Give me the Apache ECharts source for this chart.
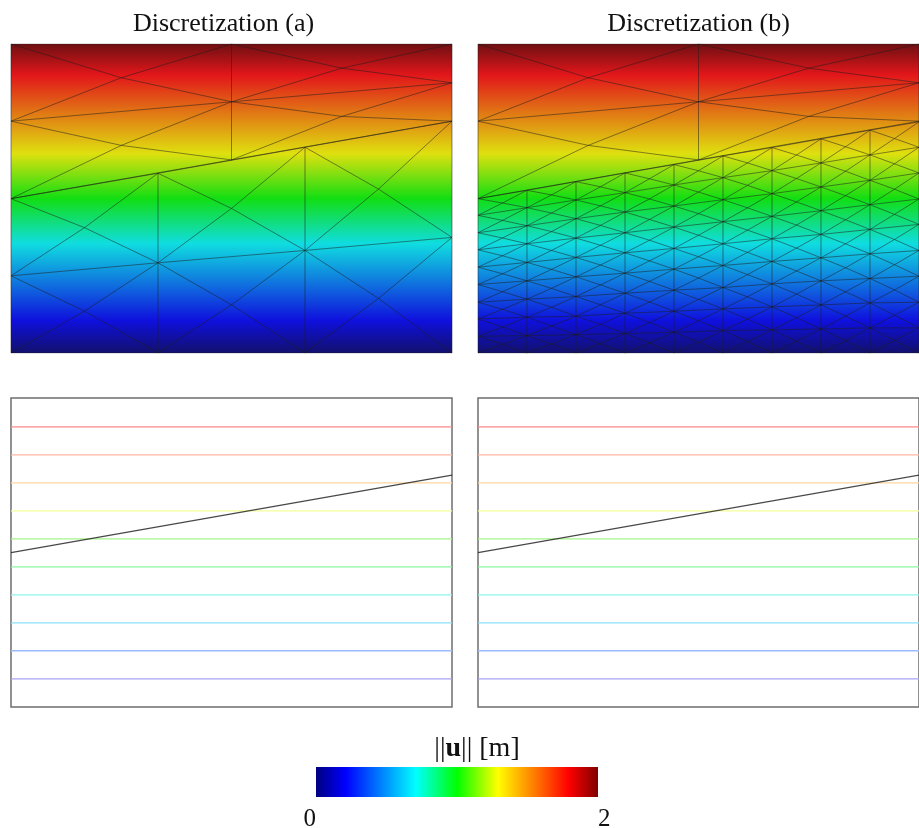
<!DOCTYPE html>
<html>
<head>
<meta charset="utf-8">
<style>html,body{margin:0;padding:0;background:#fff}#chart{width:919px;height:828px}</style>
<script src="https://cdn.jsdelivr.net/npm/echarts@6/dist/echarts.min.js"></script>
</head>
<body>
<div id="chart"></div>
<script>
// Domain: x from 0 to 12, height from 0 to 925 (displacement norm runs 0..2 over that height)
const domainWidth = 12;
const domainHeight = 925;
const normMax = 2;

const panelTitles = ['Discretization (a)', 'Discretization (b)'];
const colorbarTitleParts = ['||', 'u', '|| [m]'];
const colorbarTicks = [0, 2];

// Mesh nodes: x of each column, heights of the nodes of each column (top to bottom)
const upperX = [0, 6, 12];
const upperHeights = [
  [925, 694, 462],
  [925, 752, 578],
  [925, 809, 694]
];
const lowerXa = [0, 4, 8, 12];
const lowerHeightsA = [
  [462, 231, 0],
  [538, 270, 0],
  [616, 307, 0],
  [694, 346, 0]
];
const lowerXb = [0, 1.333, 2.667, 4, 5.333, 6.667, 8, 9.333, 10.667, 12];
const lowerHeightsB = [
  [462, 412, 360, 309, 257, 205, 152, 102, 50, 0],
  [487, 435, 381, 327, 271, 216, 161, 107, 52, 0],
  [513, 458, 402, 344, 286, 228, 169, 110, 55, 0],
  [539, 480, 422, 360, 300, 239, 179, 119, 58, 0],
  [564, 503, 440, 377, 313, 251, 188, 125, 62, 0],
  [590, 525, 459, 393, 327, 262, 196, 132, 67, 0],
  [615, 546, 477, 409, 342, 274, 207, 138, 69, 0],
  [641, 569, 497, 426, 355, 285, 216, 144, 72, 0],
  [667, 593, 517, 444, 370, 297, 223, 150, 75, 0],
  [692, 616, 539, 461, 385, 307, 230, 152, 75, 0]
];

// Interface between the two blocks: [x, height]
const interfaceLine = [[0, 462], [12, 694]];

// Contours of the norm and their colours
const contourLevels = [0.182, 0.364, 0.545, 0.726, 0.907, 1.088, 1.27, 1.451, 1.632, 1.813];
const contourColors = ['#a8a2f5', '#9cbaff', '#8ce0f8', '#8cf5ee', '#88f7a2', '#a6f588', '#f3ff98', '#ffd79c', '#ffb6a2', '#ff8888'];

// Colour map: position along the norm (0..1) and colour
const fieldStopPos = [0, 0.105, 0.354, 0.5, 0.645, 0.9, 1];
const fieldStopColors = ['#12106e', '#0f10dd', '#10dde0', '#12de12', '#dfe00f', '#e2161a', '#6e0f12'];
const barStopPos = [0, 0.105, 0.354, 0.5, 0.645, 0.895, 1];
const barStopColors = ['#00007f', '#0000ff', '#00ffff', '#00ff00', '#ffff00', '#ff0000', '#7f0000'];

const serifFont = '"Liberation Serif", "Times New Roman", serif';

function meshEdges(xs, heights) {
  const pts = [];
  const seg = (a, b) => { pts.push(a, b, [null, null]); };
  for (let c = 0; c < xs.length; c++) {
    for (let r = 0; r < heights[c].length; r++) {
      const p = [xs[c], heights[c][r]];
      if (r + 1 < heights[c].length) seg(p, [xs[c], heights[c][r + 1]]);
      if (c + 1 < xs.length) {
        const right = [xs[c + 1], heights[c + 1][r]];
        seg(p, right);
        if (r + 1 < heights[c].length) {
          const below = [xs[c], heights[c][r + 1]];
          const diag = [xs[c + 1], heights[c + 1][r + 1]];
          const mid = [(p[0] + right[0]) / 2, (p[1] + right[1] + below[1] + diag[1]) / 4];
          seg(p, mid); seg(right, mid); seg(below, mid); seg(diag, mid);
        }
      }
    }
  }
  return pts;
}

function gradient(pos, cols, horizontal) {
  const stops = pos.map((p, i) => ({
    offset: horizontal ? p : 1 - p,
    color: cols[i]
  }));
  stops.sort((a, b) => a.offset - b.offset);
  return horizontal
    ? new echarts.graphic.LinearGradient(0, 0, 1, 0, stops)
    : new echarts.graphic.LinearGradient(0, 0, 0, 1, stops);
}

function rectSeries(name, idx, rect, fill) {
  return {
    type: 'custom', name, xAxisIndex: idx, yAxisIndex: idx, silent: true, z: 1,
    data: [rect], clip: true,
    encode: { x: [0, 2], y: [1, 3] },
    renderItem(params, api) {
      const a = api.coord([api.value(0), api.value(3)]);
      const b = api.coord([api.value(2), api.value(1)]);
      return { type: 'rect', shape: { x: a[0], y: a[1], width: b[0] - a[0], height: b[1] - a[1] }, style: { fill } };
    }
  };
}

function lineSeries(name, idx, data, color, width, z) {
  return {
    type: 'line', name, xAxisIndex: idx, yAxisIndex: idx, data, z, silent: true,
    showSymbol: false, symbol: 'none', animation: false, connectNulls: false,
    lineStyle: { color, width }, clip: true
  };
}

const panelLefts = [11, 478];
const panelW = 441, panelH = 309;
const fieldTop = 44, contourTop = 398;

const grids = [], xAxes = [], yAxes = [], series = [];
function addGrid(left, top, width, height, xMax, yMax, border) {
  grids.push({ left, top, width, height, containLabel: false, outerBoundsMode: 'none', show: !!border, borderColor: border || 'transparent', borderWidth: 1.5, backgroundColor: 'transparent' });
  const i = grids.length - 1;
  xAxes.push({ type: 'value', gridIndex: i, min: 0, max: xMax, show: false });
  yAxes.push({ type: 'value', gridIndex: i, min: 0, max: yMax, show: false });
  return i;
}

const meshes = [
  [upperX, upperHeights, lowerXa, lowerHeightsA],
  [upperX, upperHeights, lowerXb, lowerHeightsB]
];
const meshColor = 'rgba(30,30,30,0.5)';
panelLefts.forEach((left, p) => {
  const fi = addGrid(left, fieldTop, panelW, panelH, domainWidth, domainHeight, null);
  series.push(rectSeries('field ' + p, fi, [0, 0, domainWidth, domainHeight], gradient(fieldStopPos, fieldStopColors, false)));
  const m = meshes[p];
  series.push(lineSeries('upper mesh ' + p, fi, meshEdges(m[0], m[1]), meshColor, 1, 3));
  series.push(lineSeries('lower mesh ' + p, fi, meshEdges(m[2], m[3]), meshColor, 1, 3));

  const ci = addGrid(left, contourTop, panelW, panelH, domainWidth, domainHeight, '#6e6e6e');
  contourLevels.forEach((lv, k) => {
    const h = lv / normMax * domainHeight;
    series.push(lineSeries('contour ' + lv, ci, [[0, h], [domainWidth, h]], contourColors[k], 1.3, 2));
  });
  series.push(lineSeries('interface ' + p, ci, interfaceLine, 'rgba(40,40,40,0.85)', 1.3, 3));
});

// Colour bar
const barIdx = grids.length;
grids.push({ left: 316, top: 767, width: 282, height: 30, containLabel: false, outerBoundsMode: 'none' });
xAxes.push({
  type: 'value', gridIndex: barIdx, min: colorbarTicks[0], max: colorbarTicks[1], interval: colorbarTicks[1] - colorbarTicks[0],
  axisLine: { show: false }, axisTick: { show: false }, splitLine: { show: false },
  axisLabel: { show: true, color: '#111', fontFamily: serifFont, fontSize: 25, margin: 10, alignMinLabel: 'right', alignMaxLabel: 'left' }
});
yAxes.push({ type: 'value', gridIndex: barIdx, min: 0, max: 1, show: false });
series.push(rectSeries('colour bar', barIdx, [colorbarTicks[0], 0, colorbarTicks[1], 1], gradient(barStopPos, barStopColors, true)));

const titleStyle = { fontFamily: serifFont, fontSize: 26, fontWeight: 'normal', color: '#111' };
const option = {
  animation: false,
  backgroundColor: '#ffffff',
  title: [
    { text: panelTitles[0], left: 218.5, top: 6, textAlign: 'center', textStyle: titleStyle },
    { text: panelTitles[1], left: 693.5, top: 6, textAlign: 'center', textStyle: titleStyle },
    {
      text: '{n|' + colorbarTitleParts[0] + '}{b|' + colorbarTitleParts[1] + '}{n|' + colorbarTitleParts[2] + '}',
      left: 472, top: 730, textAlign: 'center',
      textStyle: {
        fontFamily: serifFont, fontSize: 28, fontWeight: 'normal', color: '#111',
        rich: {
          n: { fontFamily: serifFont, fontSize: 28, fontWeight: 'normal', color: '#111' },
          b: { fontFamily: serifFont, fontSize: 28, fontWeight: 'bold', color: '#111' }
        }
      }
    }
  ],
  grid: grids,
  xAxis: xAxes,
  yAxis: yAxes,
  series
};
const chart = echarts.init(document.getElementById('chart'), null, { renderer: 'canvas' });
chart.setOption(option);
</script>
</body>
</html>
